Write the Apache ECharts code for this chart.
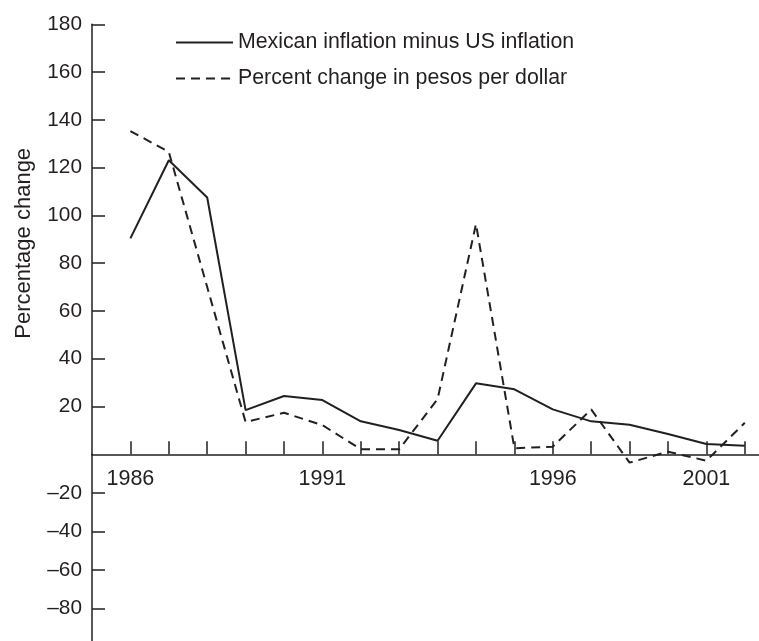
<!DOCTYPE html>
<html>
<head>
<meta charset="utf-8">
<script src="https://cdn.jsdelivr.net/npm/echarts@6/dist/echarts.min.js"></script>
<style>
  html, body { margin: 0; padding: 0; background: #fff; }
  #main { width: 759px; height: 641px; }
</style>
</head>
<body>
<div id="main"></div>
<script>
const years = [1986, 1987, 1988, 1989, 1990, 1991, 1992, 1993, 1994, 1995, 1996, 1997, 1998, 1999, 2000, 2001, 2002];
const inflationDiff = [90.4, 123.1, 107.5, 18.5, 24.4, 22.7, 13.8, 10.2, 5.7, 29.7, 27.2, 18.8, 13.8, 12.4, 8.5, 4.3, 3.6];
const pesoChange = [135.3, 126.6, 70, 13.5, 17.4, 12.2, 2.1, 2.1, 23.1, 96.4, 2.5, 3.2, 18.8, -3.5, 1.1, -2.7, 13.2];
// the printed chart puts its "1996" label under the 1997 tick, kept as printed
const labelYears = [1986, 1991, 1997, 2001];
const labelTexts = ['1986', '1991', '1996', '2001'];
const posTicks = [20, 40, 60, 80, 100, 120, 140, 160, 180];
const negTicks = [-20, -40, -60, -80];

const ink = '#231f20';
const font = 'Liberation Sans, Arial, Helvetica, sans-serif';

const chart = echarts.init(document.getElementById('main'), null, { renderer: 'canvas' });

const pairs = (vals) => years.map((y, i) => [y, vals[i]]);

const option = {
  animation: false,
  backgroundColor: '#fff',
  textStyle: { fontFamily: font, color: ink },
  legend: {
    orient: 'vertical',
    left: 175,
    top: 32,
    padding: 0,
    itemWidth: 57,
    itemHeight: 14,
    itemGap: 15,
    itemStyle: { opacity: 0 },
    textStyle: { fontSize: 21.3, color: ink, fontFamily: font },
    data: ['Mexican inflation minus US inflation', 'Percent change in pesos per dollar']
  },
  grid: [
    { left: 92, right: 0, top: 24.3, height: 430, outerBoundsMode: 'none', containLabel: false },
    { left: 92, right: 0, top: 454.3, height: 192.5, outerBoundsMode: 'none', containLabel: false }
  ],
  xAxis: [{
    gridIndex: 0,
    type: 'value',
    min: 1985,
    max: 2002.37,
    splitLine: { show: false },
    axisLine: { lineStyle: { color: ink, width: 1.5 } },
    axisTick: { inside: true, length: 13, customValues: years, lineStyle: { color: ink, width: 1.5 } },
    axisLabel: {
      customValues: labelYears,
      margin: 14,
      fontSize: 21.5,
      color: ink,
      fontFamily: font,
      formatter: (v) => labelTexts[labelYears.indexOf(v)] || ''
    }
  }, {
    gridIndex: 1,
    type: 'value',
    min: 1985,
    max: 2002.37,
    show: false
  }],
  yAxis: [{
    gridIndex: 0,
    type: 'value',
    min: 0,
    max: 180,
    interval: 20,
    name: 'Percentage change',
    nameLocation: 'middle',
    nameRotate: 90,
    nameGap: 57,
    nameTextStyle: { fontSize: 22, color: ink, fontFamily: font, padding: [0, 8, 0, 0] },
    splitLine: { show: false },
    axisLine: { show: true, lineStyle: { color: ink, width: 1.5 } },
    axisTick: { inside: true, length: 13, customValues: posTicks, lineStyle: { color: ink, width: 1.5 } },
    axisLabel: {
      customValues: posTicks,
      margin: 10,
      fontSize: 20.8,
      color: ink,
      fontFamily: font
    }
  }, {
    gridIndex: 1,
    type: 'value',
    min: -100,
    max: 0,
    interval: 20,
    splitLine: { show: false },
    axisLine: { show: true, lineStyle: { color: ink, width: 1.5 } },
    axisTick: { inside: true, length: 13, customValues: negTicks, lineStyle: { color: ink, width: 1.5 } },
    axisLabel: {
      customValues: negTicks,
      margin: 10,
      fontSize: 20.8,
      color: ink,
      fontFamily: font,
      formatter: (v) => '\u2013' + Math.abs(v)
    }
  }],
  series: [{
    name: 'Mexican inflation minus US inflation',
    type: 'line',
    xAxisIndex: 0,
    yAxisIndex: 0,
    data: pairs(inflationDiff),
    symbol: 'none',
    clip: false,
    lineStyle: { color: ink, width: 2 },
    itemStyle: { color: ink }
  }, {
    name: 'Percent change in pesos per dollar',
    type: 'line',
    xAxisIndex: 0,
    yAxisIndex: 0,
    data: pairs(pesoChange),
    symbol: 'none',
    clip: false,
    lineStyle: { color: ink, width: 2, type: [9, 6] },
    itemStyle: { color: ink }
  }]
};

chart.setOption(option);
</script>
</body>
</html>
